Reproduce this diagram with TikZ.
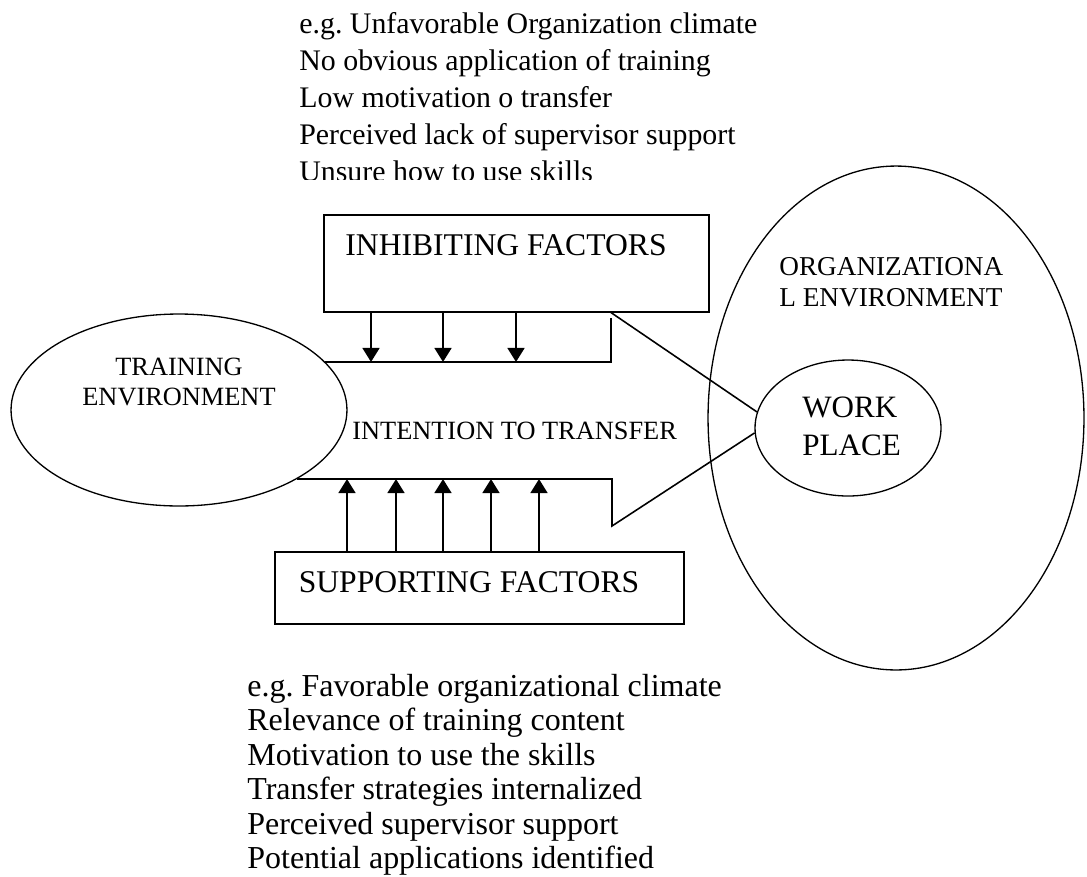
\documentclass[tikz,border=0pt]{standalone}
\usepackage{fontspec}
\setmainfont{Liberation Serif}
\frenchspacing
\usetikzlibrary{shapes.geometric,arrows.meta}
\begin{document}
\begin{tikzpicture}[x=0.02cm,y=-0.02cm,
    factorbox/.style={draw,line width=0.9pt,inner sep=0pt,anchor=north west},
    envellipse/.style={draw,ellipse,line width=0.75pt,inner sep=0pt},
    push/.style={line width=1.5pt,-{Triangle[length=8pt,width=9.5pt]}},
    outline/.style={line width=0.9pt},
    listline/.style={anchor=base west,inner sep=0pt}]
    \useasboundingbox (0,0) rectangle (1087,876);
    \node[factorbox,minimum width=7.7cm,minimum height=1.94cm] (inhibit) at (323,214) {};
    \node[factorbox,minimum width=8.18cm,minimum height=1.44cm] (support) at (274,551) {};
    \node[envellipse,minimum width=6.72cm,minimum height=3.84cm] (training) at (179,410) {};
    \node[envellipse,minimum width=7.52cm,minimum height=10.08cm] (org) at (896,418) {};
    \node[envellipse,minimum width=3.72cm,minimum height=2.72cm] (work) at (848,428) {};
    % the open arrow from training to work place
    \coordinate (upperstart) at (325,362);
    \coordinate (upperend) at (611,362);
    \coordinate (uppernotch) at (611,318);
    \coordinate (lowerstart) at (297,479);
    \coordinate (lowerend) at (612,479);
    \coordinate (lowernotch) at (612,526);
    \draw[outline] (upperstart) -- (upperend) -- (uppernotch);
    \draw[outline] (inhibit.south -| uppernotch) -- (work.170);
    \draw[outline] (lowerstart) -- (lowerend) -- (lowernotch) -- (work.183);
    \foreach \x in {371,443,516}
        \draw[push] (inhibit.south -| \x,0) -- (\x,0 |- upperstart);
    \foreach \x in {347,396,443,491,539}
        \draw[push] (support.north -| \x,0) -- (\x,0 |- lowerstart);
    % labels
    \node[font=\fontsize{18}{20}\selectfont,inner sep=0pt] (inhibitlabel) at (506,245) {INHIBITING FACTORS};
    \node[font=\fontsize{18}{20}\selectfont,inner sep=0pt] (supportlabel) at (469,582) {SUPPORTING FACTORS};
    \node[font=\fontsize{15}{17}\selectfont,align=center,inner sep=0pt] (traininglabel) at (179,382) {TRAINING\\ENVIRONMENT};
    \node[font=\fontsize{15.5}{17.6}\selectfont,align=left,anchor=west,inner sep=0pt] (orglabel) at (779,282) {ORGANIZATIONA\\L ENVIRONMENT};
    \node[font=\fontsize{17.7}{21.5}\selectfont,align=left,anchor=west,inner sep=0pt] (worklabel) at (802,426) {WORK\\PLACE};
    \node[font=\fontsize{15}{17}\selectfont,anchor=west,inner sep=0pt] (intention) at (352,431) {INTENTION TO TRANSFER};
    \begin{scope}
        \clip (0,0) rectangle (1087,179);
        \foreach \t [count=\i] in {e.g. Unfavorable Organization climate,No obvious application of training,Low motivation o transfer,Perceived lack of supervisor support,Unsure how to use skills}
            \node[listline,font=\fontsize{17}{21}\selectfont] (barrier\i) at (299,{33+37*(\i-1)}) {\t};
    \end{scope}
    \foreach \t [count=\i] in {e.g. Favorable organizational climate,Relevance of training content,Motivation to use the skills,Transfer strategies internalized,Perceived supervisor support,Potential applications identified}
        \node[listline,font=\fontsize{18.2}{20}\selectfont] (enabler\i) at (247,{696+34.5*(\i-1)}) {\t};
\end{tikzpicture}
\end{document}
